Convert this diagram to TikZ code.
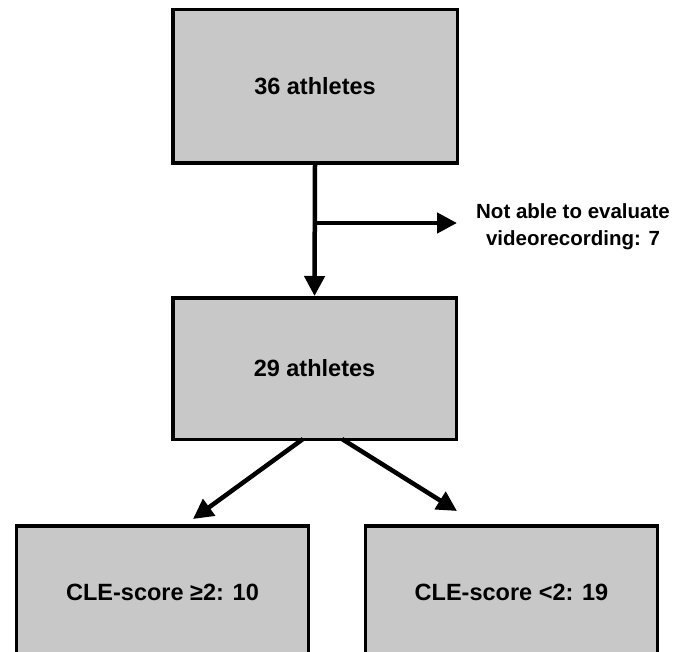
\documentclass[tikz,border=0pt]{standalone}
\usepackage{fontspec}
\setmainfont{Liberation Sans}
\usetikzlibrary{arrows.meta}
\definecolor{boxgray}{RGB}{200,200,200}
\begin{document}
\begin{tikzpicture}[x=1pt,y=-1pt,
  box/.style={draw=black, line width=3.5pt, fill=boxgray, inner sep=0pt,
    font=\fontsize{23.5}{28}\selectfont\bfseries},
  conn/.style={line width=4.5pt, -{Triangle[length=20pt,width=20pt]}},
  notetext/.style={align=center, inner sep=0pt, font=\fontsize{20.5}{27}\selectfont\bfseries}]
\fill[white] (0,0) rectangle (687,652);
\useasboundingbox (0,0) rectangle (687,652);
\begin{scope}
\clip (0,0) rectangle (687,652);
\node[box, minimum width=284.5pt, minimum height=153.5pt] (top) at (315,86.5) {36 athletes};
\node[box, minimum width=283.5pt, minimum height=141.5pt] (mid) at (314.5,368.5) {29 athletes};
\node[box, minimum width=292pt, minimum height=132.5pt] (left) at (162.5,592) {CLE-score ≥2: 10};
\node[box, minimum width=292pt, minimum height=132.5pt] (right) at (511.5,592) {CLE-score <2: 19};
\node[notetext] (note) at (573,227) {Not able to evaluate\\videorecording: 7};
\coordinate (br) at (315,223);
\coordinate (brend) at (457,223);
\coordinate (ltip) at (193,519);
\coordinate (rtip) at (457,511);
\draw[conn] (top.south) -- (mid.north);
\draw[conn] (br) -- (brend);
\draw[conn] ([xshift=-11.5pt,yshift=2pt]mid.south) -- (ltip);
\draw[conn] ([xshift=27.5pt,yshift=2pt]mid.south) -- (rtip);
\end{scope}
\end{tikzpicture}
\end{document}
